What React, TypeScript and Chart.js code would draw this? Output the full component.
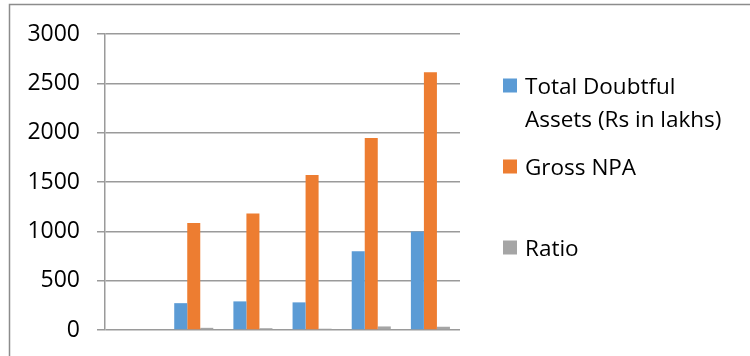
import React, { useEffect, useRef } from "react";
import { Chart, registerables } from "chart.js";

Chart.register(...registerables);

const categories = ["", "", "", "", "", ""];
const doubtfulAssets = [null, 272, 290, 280, 797, 998];
const grossNPA = [null, 1085, 1180, 1570, 1945, 2612];
const ratio = [null, 22, 18, 13, 36, 33];
const yTicks = [0, 500, 1000, 1500, 2000, 2500, 3000];

const legendLines: string[][] = [
  ["Total Doubtful", "Assets (Rs in lakhs)"],
  ["Gross NPA"],
  ["Ratio"],
];

const FONT = "'Open Sans', sans-serif";

const frameAndLegend = {
  id: "frameAndLegend",
  afterDraw(chart: any) {
    const ctx = chart.ctx;
    ctx.save();
    ctx.strokeStyle = "#8c8c8c";
    ctx.lineWidth = 1.5;
    ctx.strokeRect(9.5, 4.5, 760, 370);
    const tops = [78.5, 159.5, 240.5];
    ctx.font = `22.5px ${FONT}`;
    ctx.textBaseline = "alphabetic";
    ctx.textAlign = "left";
    chart.data.datasets.forEach((ds: any, i: number) => {
      const top = tops[i];
      ctx.fillStyle = ds.backgroundColor;
      ctx.fillRect(503, top, 14, 14);
      ctx.fillStyle = "#000000";
      legendLines[i].forEach((line, j) => {
        ctx.fillText(line, 525, top + 15 + j * 33);
      });
    });
    ctx.restore();
  },
};

export default function App() {
  const ref = useRef<HTMLCanvasElement | null>(null);
  useEffect(() => {
    document.body.style.margin = "0";
    const canvas = ref.current!;
    const chart = new Chart(canvas, {
      type: "bar",
      data: {
        labels: categories,
        datasets: [
          { label: "Total Doubtful Assets (Rs in lakhs)", data: doubtfulAssets, backgroundColor: "#5B9BD5" },
          { label: "Gross NPA", data: grossNPA, backgroundColor: "#ED7D31" },
          { label: "Ratio", data: ratio, backgroundColor: "#A5A5A5" },
        ],
      },
      options: {
        responsive: false,
        animation: false,
        layout: { padding: { left: 0, right: 290, top: 34, bottom: 26 } },
        datasets: { bar: { categoryPercentage: 0.66, barPercentage: 1 } },
        plugins: { legend: { display: false }, tooltip: { enabled: false } },
        scales: {
          x: { display: false, grid: { display: false } },
          y: {
            min: 0,
            max: 3000,
            afterFit: (s: any) => {
              s.width = 105;
              s.paddingTop = 0;
              s.paddingBottom = 0;
            },
            afterBuildTicks: (s: any) => { s.ticks = yTicks.map((v) => ({ value: v })); },
            ticks: {
              color: "#000000",
              padding: 17,
              font: { family: FONT, size: 23 },
              callback: (v: any) => String(v),
            },
            grid: { color: "#9a9a9a", lineWidth: 1.5, tickLength: 8, drawTicks: true },
            border: { display: true, color: "#9a9a9a", width: 1.5 },
          },
        },
      },
      plugins: [frameAndLegend],
    });
    return () => chart.destroy();
  }, []);
  return (
    <div style={{ width: 750, height: 356 }}>
      <canvas ref={ref} width={750} height={356} style={{ display: "block" }} />
    </div>
  );
}
